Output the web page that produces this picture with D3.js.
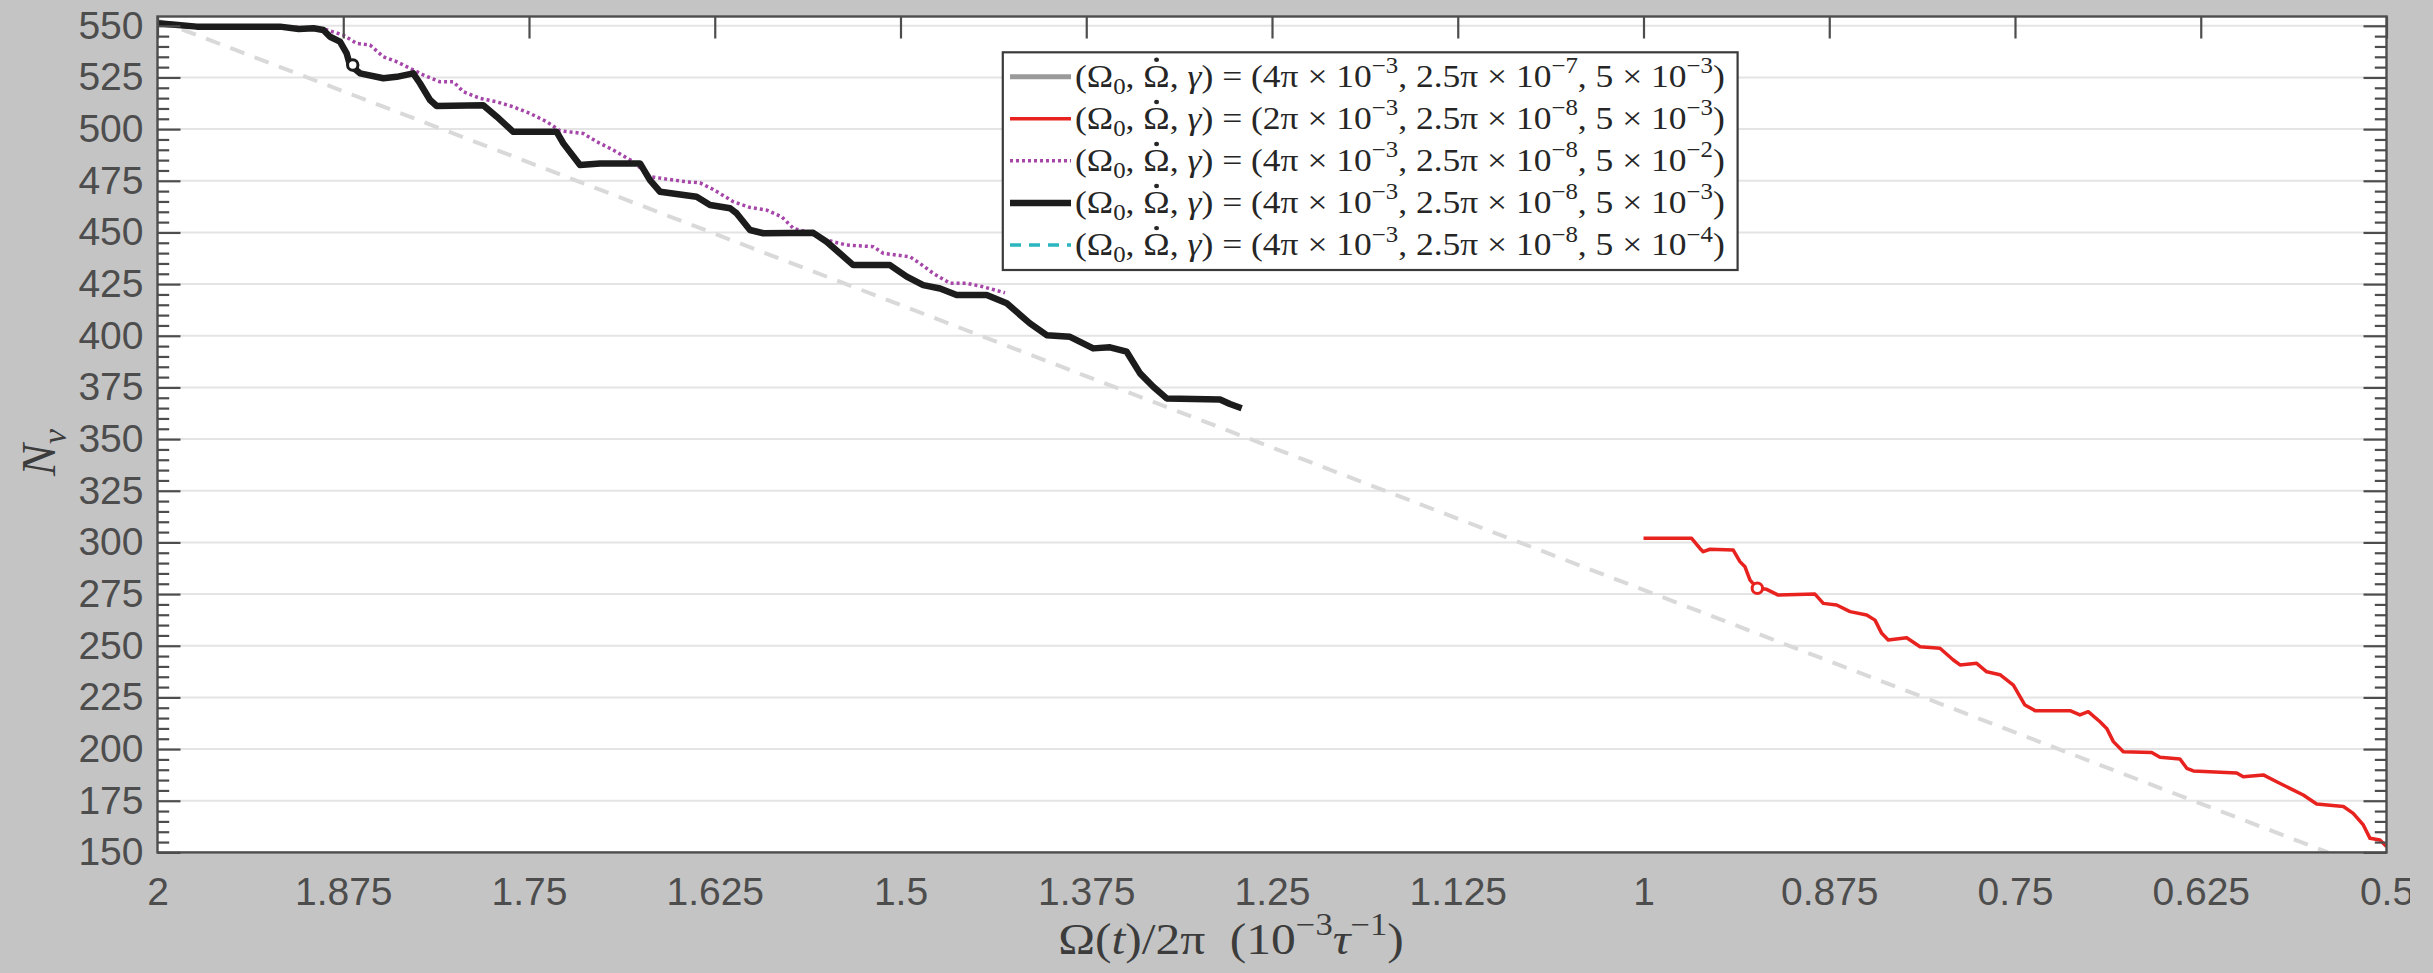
<!DOCTYPE html>
<html><head><meta charset="utf-8">
<script src="https://cdn.jsdelivr.net/npm/d3@7"></script>
<style>html,body{margin:0;padding:0;background:#c4c4c4;overflow:hidden}</style>
</head><body>
<svg id="chart" width="2433" height="973"></svg>
<script>
// ---------- data ----------
const xTicks = [2, 1.875, 1.75, 1.625, 1.5, 1.375, 1.25, 1.125, 1, 0.875, 0.75, 0.625, 0.5];
const xTickLabels = ["2","1.875","1.75","1.625","1.5","1.375","1.25","1.125","1","0.875","0.75","0.625","0.5"];
const yTicks = [150,175,200,225,250,275,300,325,350,375,400,425,450,475,500,525,550];
const yTickLabels = yTicks.map(String);
const yMinorTicks = [155,160,165,170,180,185,190,195,205,210,215,220,230,235,240,245,255,260,265,270,280,285,290,295,305,310,315,320,330,335,340,345,355,360,365,370,380,385,390,395,405,410,415,420,430,435,440,445,455,460,465,470,480,485,490,495,505,510,515,520,530,535,540,545];

// black: (4π×10^-3, 2.5π×10^-8, 5×10^-3)
const blackOmega = [2.0,1.99,1.9736,1.95,1.9176,1.905,1.895,1.8884,1.8839,1.8772,1.8727,1.8705,1.8637,1.848,1.839,1.8279,1.8234,1.8166,1.8121,1.7808,1.7717,1.7606,1.7314,1.7269,1.7157,1.7022,1.6753,1.6686,1.6618,1.6372,1.6282,1.6147,1.6102,1.6013,1.5923,1.5587,1.5497,1.5318,1.5071,1.4958,1.4847,1.4734,1.4622,1.442,1.4285,1.4129,1.4016,1.3859,1.3703,1.359,1.3478,1.3388,1.3299,1.3209,1.285,1.2783,1.2704];
const blackNv    = [551.2,550.6,549.6,549.6,549.6,548.5,548.8,548,544.7,542.3,536.7,531,527,524.6,525.3,527,522.2,514.1,511.2,511.5,506,498.7,498.7,493.1,482.6,483.4,483.4,475.3,469.7,467.3,463.3,461.7,459.2,451.2,449.6,449.8,445.5,434.2,434.2,428.6,424.5,422.9,419.7,419.7,415.7,406,400.3,399.5,393.9,394.4,392.3,381.8,375.3,369.7,369.2,367,364.9];

// magenta dotted: (4π×10^-3, 2.5π×10^-8, 5×10^-2)
const magentaOmega = [2.0,1.9736,1.9176,1.8884,1.875,1.866,1.857,1.848,1.839,1.83,1.8211,1.8099,1.8009,1.7942,1.783,1.7717,1.7606,1.7493,1.7381,1.7291,1.7135,1.7044,1.6933,1.6798,1.6686,1.6573,1.6439,1.6349,1.626,1.6125,1.6013,1.59,1.58,1.5721,1.5631,1.5497,1.5362,1.5183,1.5116,1.4936,1.4869,1.4779,1.4667,1.4554,1.4443,1.4297];
const magentaNv    = [551.2,549.6,549.6,548.6,545.5,541.5,540.7,535,532.6,529.4,526.2,522.9,522.9,518.1,514.9,513.2,510.8,507.6,503.6,499.2,497.9,493.9,489.9,484.2,477,475.8,474.5,474,470.8,464.9,462.1,460.8,457.6,452,450.3,446.3,443.9,443.1,439.9,438.2,435,430.2,425.4,425.4,423.7,420.8];

// red: (2π×10^-3, 2.5π×10^-8, 5×10^-3)
const redOmega = [1.0,0.9676,0.962,0.9598,0.9553,0.9396,0.9351,0.9317,0.9283,0.9234,0.9171,0.9093,0.8846,0.879,0.87,0.861,0.8498,0.8442,0.8397,0.8353,0.8229,0.8139,0.8005,0.7915,0.787,0.7758,0.769,0.7601,0.7511,0.7433,0.7365,0.713,0.7063,0.7007,0.6928,0.6883,0.6838,0.6771,0.658,0.6524,0.639,0.6344,0.63,0.6008,0.5964,0.5829,0.5739,0.565,0.556,0.547,0.529,0.5224,0.5156,0.5111,0.5044,0.5];
const redNv    = [302,302,297.1,295.5,296.7,296.3,290.7,288.2,281.8,277.8,277.3,274.5,275,270.5,269.7,266.5,264.9,262.4,256,252.8,253.9,249.5,248.8,243.1,240.7,241.5,237.4,236,231,221.3,218.6,218.6,216.5,218.1,213.2,210,203.6,198.7,198.3,196,195.2,190.7,189.4,188.4,186.6,187.5,184.2,181,177.8,173.4,172.2,168.9,163.3,156.8,156,152.8];

// light gray dashed reference line
const refOmega = [2.0, 0.5394];
const refNv    = [552.8, 150];

// open-circle markers
const markerOmega = [1.8686, 0.9234];
const markerNv    = [531, 277.8];
const markerSeries = ["black", "red"];

// legend
const legendSeries   = ["gray", "red", "magenta", "black", "cyan"];
const legendOmega0   = ["4π", "2π", "4π", "4π", "4π"];
const legendOmegaDotExp = ["−7", "−8", "−8", "−8", "−8"];
const legendGammaExp = ["−3", "−3", "−2", "−3", "−4"];

// ---------- styles ----------
const styles = {
  gray:    {stroke:"#9a9a9a", width:5,   dash:null},
  red:     {stroke:"#e8221f", width:3.5, dash:null},
  magenta: {stroke:"#a546a8", width:3.5, dash:"3,3"},
  black:   {stroke:"#1c1c1c", width:6.5, dash:null},
  cyan:    {stroke:"#2bb6bf", width:4.5, dash:"11,8"}
};

// ---------- chart ----------
const svg = d3.select("#chart");
const L = 157.5, R = 2386.5, T = 16.5, B = 852.4;
const x = d3.scaleLinear().domain([2, 0.5]).range([L, R]);
const y = d3.scaleLinear().domain([150, 554.5]).range([B, T]);
const axisColor = "#4d4d4d";
const fontTick = "'Liberation Sans', Arial, Helvetica, sans-serif";
const fontMath = "'Liberation Serif', 'DejaVu Serif', serif";

svg.append("rect").attr("x",0).attr("y",0).attr("width",2433).attr("height",973).attr("fill","#c4c4c4");
svg.append("rect").attr("x",L).attr("y",T).attr("width",R-L).attr("height",B-T).attr("fill","#ffffff");

// gridlines
svg.append("g").selectAll("line").data(yTicks.filter(v => v > 150)).join("line")
  .attr("x1", L).attr("x2", R).attr("y1", d => y(d)).attr("y2", d => y(d))
  .attr("stroke", "#e4e4e4").attr("stroke-width", 2);

const defs = svg.append("defs");
defs.append("clipPath").attr("id","plotclip")
  .append("rect").attr("x",L).attr("y",T).attr("width",R-L).attr("height",B-T);
defs.append("clipPath").attr("id","labelclip")
  .append("rect").attr("x",0).attr("y",0).attr("width",2410).attr("height",973);

const line = d3.line().x(d => x(d[0])).y(d => y(d[1]));
const dataG = svg.append("g").attr("clip-path","url(#plotclip)");

function drawSeries(xs, ys, st) {
  const p = dataG.append("path").datum(d3.zip(xs, ys)).attr("d", line)
    .attr("fill","none").attr("stroke", st.stroke).attr("stroke-width", st.width)
    .attr("stroke-linejoin","round");
  if (st.dash) p.attr("stroke-dasharray", st.dash);
  return p;
}
drawSeries(refOmega, refNv, {stroke:"#d9d9d9", width:4, dash:"15,11"});
drawSeries(magentaOmega, magentaNv, styles.magenta);
drawSeries(redOmega, redNv, styles.red);
drawSeries(blackOmega, blackNv, styles.black);

dataG.selectAll("circle.mk").data(d3.zip(markerOmega, markerNv, markerSeries)).join("circle")
  .attr("class","mk").attr("cx", d => x(d[0])).attr("cy", d => y(d[1])).attr("r", 5.2)
  .attr("fill","#fff").attr("stroke", d => styles[d[2]].stroke).attr("stroke-width", 3);

// axes
const xAxisB = d3.axisBottom(x).tickValues(xTicks).tickFormat((d,i) => xTickLabels[i])
  .tickSizeInner(-22).tickSizeOuter(0).tickPadding(25);
const xAxisT = d3.axisTop(x).tickValues(xTicks).tickFormat("").tickSizeInner(-22).tickSizeOuter(0);
const yAxisL = d3.axisLeft(y).tickValues(yTicks).tickFormat((d,i) => yTickLabels[i])
  .tickSizeInner(-23).tickSizeOuter(0).tickPadding(14);
const yAxisR = d3.axisRight(y).tickValues(yTicks).tickFormat("").tickSizeInner(-23).tickSizeOuter(0);
const yMinL = d3.axisLeft(y).tickValues(yMinorTicks).tickFormat("").tickSizeInner(-11.7).tickSizeOuter(0);
const yMinR = d3.axisRight(y).tickValues(yMinorTicks).tickFormat("").tickSizeInner(-11.7).tickSizeOuter(0);

function styleAxis(g) {
  g.selectAll(".domain").remove();
  g.selectAll(".tick line").attr("stroke", axisColor).attr("stroke-width", 2.2);
  g.selectAll(".tick text").attr("fill", axisColor).style("font-family", fontTick).style("font-size","39px");
}
svg.append("g").attr("transform",`translate(0,${B})`).attr("clip-path","url(#labelclip)").call(xAxisB).call(styleAxis);
svg.append("g").attr("transform",`translate(0,${T})`).call(xAxisT).call(styleAxis);
svg.append("g").attr("transform",`translate(${L},0)`).call(yAxisL).call(styleAxis);
svg.append("g").attr("transform",`translate(${R},0)`).call(yAxisR).call(styleAxis);
svg.append("g").attr("transform",`translate(${L},0)`).call(yMinL).call(styleAxis);
svg.append("g").attr("transform",`translate(${R},0)`).call(yMinR).call(styleAxis);

// box
svg.append("rect").attr("x",L).attr("y",T).attr("width",R-L).attr("height",B-T)
  .attr("fill","none").attr("stroke",axisColor).attr("stroke-width",2.4);

// math text helper: segments [text, kind]; kind: n | sup | sub | it | dot
function mathText(g, segs, fs, fill) {
  const t = g.append("text").attr("x",0).attr("y",0).attr("fill", fill)
    .style("font-family", fontMath).style("font-size", fs + "px");
  let shift = 0, idx = 0;
  const dots = [];
  segs.forEach(s => {
    const k = s[1] || "n";
    let target = 0, size = fs, style = "normal";
    if (k === "sup") { target = -0.42 * fs; size = 0.7 * fs; }
    if (k === "sub") { target = 0.22 * fs; size = 0.7 * fs; }
    if (k === "it") { style = "italic"; }
    if (k === "dot") dots.push(idx);
    t.append("tspan").attr("dy", target - shift).style("font-size", size + "px")
      .style("font-style", style).text(s[0]);
    shift = target;
    idx += s[0].length;
  });
  dots.forEach(i => {
    const a = t.node().getStartPositionOfChar(i).x;
    const b = t.node().getEndPositionOfChar(i).x;
    g.append("circle").attr("cx", (a + b) / 2).attr("cy", -0.84 * fs).attr("r", 0.07 * fs).attr("fill", fill);
  });
  return t;
}
function fitText(g, t, x0, y0, width) {
  const w = t.node().getBBox().width;
  g.attr("transform", `translate(${x0},${y0}) scale(${width / w},1)`);
}

// legend
const LX0 = 1002.8, LX1 = 1737.6, LY0 = 52.3, LY1 = 270;
svg.append("rect").attr("x",LX0).attr("y",LY0).attr("width",LX1-LX0).attr("height",LY1-LY0)
  .attr("fill","#fff").attr("stroke","#3a3a3a").attr("stroke-width",2.2);
const rowY = d3.scaleLinear().domain([0, 4]).range([76.7, 245]);
legendSeries.forEach((s, i) => {
  const st = styles[s];
  const ly = svg.append("line").attr("x1",1010).attr("x2",1071).attr("y1",rowY(i)).attr("y2",rowY(i))
    .attr("stroke", st.stroke).attr("stroke-width", s === "black" ? 6.5 : (s === "gray" ? 5 : 3.5));
  if (st.dash) ly.attr("stroke-dasharray", st.dash);
  const g = svg.append("g");
  const t = mathText(g, [["(Ω"],["0","sub"],[", "],["Ω","dot"],[", "],["γ","it"],[") = ("],[legendOmega0[i]],[" × 10"],["−3","sup"],
    [", 2.5π × 10"],[legendOmegaDotExp[i],"sup"],[", 5 × 10"],[legendGammaExp[i],"sup"],[")"]], 32, "#262626");
  fitText(g, t, 1075, rowY(i) + 10, 650);
});

// axis labels
const gx = svg.append("g");
const tx = mathText(gx, [["Ω(",],["t","it"],[")/2π\u2002(10"],["−3","sup"],["τ","it"],["−1","sup"],[")"]], 45, "#3c3c3c");
const wx = tx.node().getBBox().width;
const sx = Math.min(1.1, 610 / wx);
gx.attr("transform", `translate(${1231 - wx * sx / 2},954) scale(${sx},1)`);

const gy = svg.append("g");
const ty = mathText(gy, [["N","it"],["v","sub"]], 48, "#3c3c3c");
ty.selectAll("tspan").style("font-style","italic");
const wy = ty.node().getBBox().width;
gy.attr("transform", `translate(55,${452 + wy/2}) rotate(-90)`);
</script>
</body></html>
